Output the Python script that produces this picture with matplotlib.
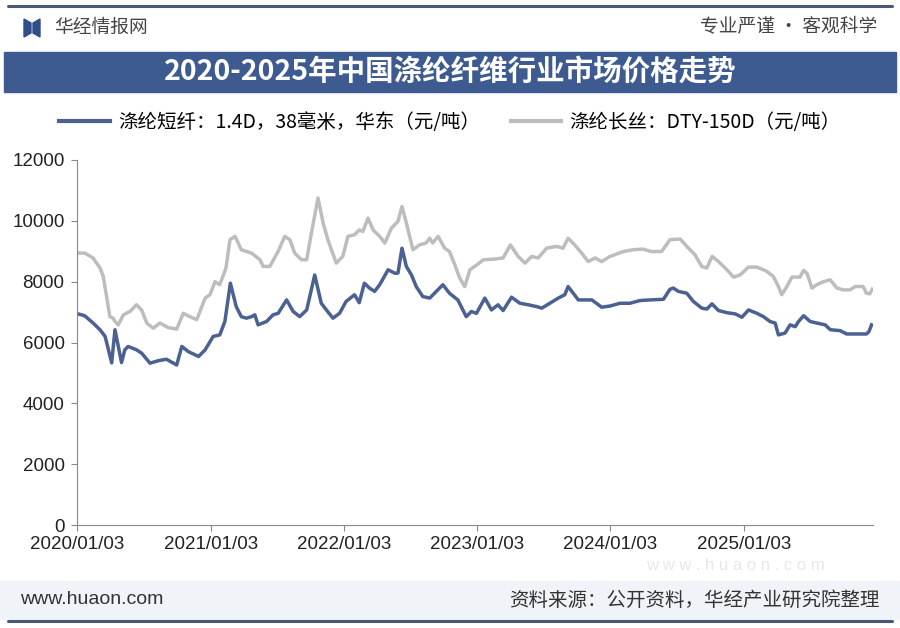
import pandas as pd
import matplotlib.pyplot as plt
from matplotlib.patches import Rectangle, Polygon
from matplotlib.lines import Line2D

plt.rcParams['font.family'] = ['Noto Sans CJK SC', 'DejaVu Sans']

# 涤纶短纤 1.4D 38mm 华东 (元/吨)
staple_dates = [
    '2020-01-03', '2020-01-24', '2020-02-16', '2020-03-06', '2020-03-20', '2020-04-07',
    '2020-04-16', '2020-05-04', '2020-05-13', '2020-05-22', '2020-06-14', '2020-06-28',
    '2020-07-21', '2020-08-12', '2020-09-04', '2020-10-02', '2020-10-16', '2020-11-03',
    '2020-12-01', '2020-12-19', '2021-01-10', '2021-01-28', '2021-02-11', '2021-02-26',
    '2021-03-14', '2021-03-28', '2021-04-11', '2021-04-25', '2021-05-04', '2021-05-13',
    '2021-06-05', '2021-06-23', '2021-07-07', '2021-07-30', '2021-08-17', '2021-09-04',
    '2021-09-23', '2021-10-15', '2021-11-02', '2021-11-16', '2021-12-04', '2021-12-22',
    '2022-01-09', '2022-02-01', '2022-02-14', '2022-02-28', '2022-03-14', '2022-03-28',
    '2022-04-11', '2022-05-04', '2022-05-22', '2022-05-31', '2022-06-11', '2022-06-23',
    '2022-07-07', '2022-07-20', '2022-08-07', '2022-08-26', '2022-09-13', '2022-10-01',
    '2022-10-19', '2022-11-11', '2022-12-04', '2022-12-18', '2023-01-01', '2023-01-24',
    '2023-02-11', '2023-03-01', '2023-03-15', '2023-04-07', '2023-04-30', '2023-05-23',
    '2023-06-15', '2023-06-29', '2023-07-21', '2023-08-13', '2023-08-31', '2023-09-09',
    '2023-09-23', '2023-10-07', '2023-11-13', '2023-12-10', '2024-01-02', '2024-01-29',
    '2024-02-25', '2024-03-24', '2024-04-20', '2024-05-27', '2024-06-14', '2024-06-23',
    '2024-07-07', '2024-07-30', '2024-08-17', '2024-09-09', '2024-09-23', '2024-10-07',
    '2024-10-25', '2024-11-17', '2024-12-10', '2024-12-28', '2025-01-15', '2025-02-07',
    '2025-02-25', '2025-03-15', '2025-03-29', '2025-04-07', '2025-04-25', '2025-05-09',
    '2025-05-23', '2025-06-01', '2025-06-15', '2025-07-03', '2025-07-21', '2025-08-13',
    '2025-08-27', '2025-09-23', '2025-10-11', '2025-11-07', '2025-12-04', '2025-12-11',
    '2025-12-18',
]
staple_price = [
    6950, 6880, 6640, 6420, 6200, 5330,
    6420, 5340, 5760, 5870, 5760, 5650,
    5320, 5400, 5450, 5260, 5870, 5700,
    5540, 5760, 6200, 6250, 6690, 7950,
    7180, 6850, 6800, 6850, 6910, 6580,
    6690, 6910, 6960, 7400, 7020, 6850,
    7070, 8220, 7290, 7070, 6800, 6960,
    7350, 7570, 7310, 7950, 7790, 7680,
    7900, 8390, 8280, 8280, 9100, 8500,
    8220, 7840, 7510, 7460, 7680, 7900,
    7620, 7400, 6850, 7020, 6960, 7460,
    7070, 7240, 7050, 7490, 7290, 7240,
    7180, 7130, 7290, 7460, 7570, 7840,
    7620, 7400, 7400, 7160, 7200, 7290,
    7290, 7380, 7400, 7420, 7750, 7790,
    7680, 7620, 7350, 7130, 7100, 7270,
    7050, 6980, 6940, 6830, 7070, 6960,
    6850, 6690, 6640, 6250, 6310, 6580,
    6520, 6690, 6880, 6690, 6640, 6580,
    6420, 6390, 6280, 6280, 6280, 6360,
    6580,
]

# 涤纶长丝 DTY-150D (元/吨)
filament_dates = [
    '2020-01-03', '2020-01-24', '2020-02-16', '2020-03-06', '2020-03-15', '2020-03-24',
    '2020-04-02', '2020-04-11', '2020-04-16', '2020-04-25', '2020-05-09', '2020-05-27',
    '2020-06-14', '2020-06-28', '2020-07-12', '2020-07-30', '2020-08-17', '2020-09-09',
    '2020-10-02', '2020-10-20', '2020-11-07', '2020-11-26', '2020-12-19', '2021-01-01',
    '2021-01-15', '2021-01-28', '2021-02-14', '2021-02-25', '2021-03-11', '2021-03-28',
    '2021-04-25', '2021-05-18', '2021-05-27', '2021-06-14', '2021-07-07', '2021-07-25',
    '2021-08-08', '2021-08-21', '2021-09-09', '2021-09-23', '2021-10-06', '2021-10-24',
    '2021-11-07', '2021-11-20', '2021-12-13', '2021-12-31', '2022-01-14', '2022-02-01',
    '2022-02-14', '2022-02-24', '2022-03-10', '2022-03-24', '2022-04-11', '2022-04-25',
    '2022-05-13', '2022-05-31', '2022-06-11', '2022-06-23', '2022-07-11', '2022-07-29',
    '2022-08-16', '2022-08-26', '2022-09-03', '2022-09-18', '2022-10-06', '2022-10-19',
    '2022-11-03', '2022-11-16', '2022-11-30', '2022-12-14', '2022-12-27', '2023-01-20',
    '2023-02-16', '2023-03-15', '2023-04-04', '2023-04-25', '2023-05-14', '2023-06-01',
    '2023-06-19', '2023-07-12', '2023-08-08', '2023-08-26', '2023-09-09', '2023-09-27',
    '2023-10-16', '2023-11-03', '2023-11-22', '2023-12-10', '2024-01-02', '2024-02-07',
    '2024-03-05', '2024-04-01', '2024-04-24', '2024-05-22', '2024-06-14', '2024-07-12',
    '2024-07-30', '2024-08-21', '2024-09-09', '2024-09-23', '2024-10-07', '2024-10-25',
    '2024-11-17', '2024-12-05', '2024-12-23', '2025-01-15', '2025-02-07', '2025-03-06',
    '2025-03-24', '2025-04-07', '2025-04-16', '2025-04-30', '2025-05-14', '2025-06-05',
    '2025-06-15', '2025-06-24', '2025-07-08', '2025-07-21', '2025-08-08', '2025-08-27',
    '2025-09-14', '2025-10-02', '2025-10-20', '2025-11-03', '2025-11-25', '2025-12-04',
    '2025-12-13', '2025-12-20',
]
filament_price = [
    8940, 8940, 8780, 8450, 8170, 7510,
    6850, 6800, 6690, 6580, 6910, 7020,
    7240, 7070, 6640, 6470, 6640, 6490,
    6440, 6960, 6850, 6750, 7460, 7570,
    8000, 7900, 8450, 9380, 9490, 9050,
    8940, 8720, 8500, 8500, 9000, 9490,
    9380, 8940, 8720, 8720, 9600, 10750,
    9930, 9380, 8610, 8830, 9490, 9540,
    9700, 9650, 10090, 9700, 9490, 9270,
    9760, 9980, 10470, 9930, 9050, 9210,
    9270, 9430, 9270, 9490, 9100, 8990,
    8550, 8120, 7840, 8390, 8500, 8720,
    8740, 8780, 9210, 8830, 8610, 8830,
    8780, 9100, 9160, 9100, 9430, 9210,
    8940, 8660, 8780, 8660, 8830, 8990,
    9050, 9070, 8990, 8990, 9380, 9400,
    9160, 8890, 8500, 8450, 8830, 8660,
    8390, 8150, 8220, 8480, 8480, 8340,
    8170, 7840, 7570, 7840, 8150, 8150,
    8370, 8280, 7790, 7900, 8000, 8060,
    7790, 7730, 7730, 7840, 7840, 7620,
    7600, 7750,
]

legend_labels = ['涤纶短纤：1.4D，38毫米，华东（元/吨）', '涤纶长丝：DTY-150D（元/吨）']
x_ticks = ['2020-01-03', '2021-01-03', '2022-01-03', '2023-01-03', '2024-01-03', '2025-01-03']
y_ticks = [0, 2000, 4000, 6000, 8000, 10000, 12000]

blue = '#4a6192'
grey = '#bdbdbd'
navy = '#3d5a91'
latin = ['Liberation Sans', 'DejaVu Sans']

fig = plt.figure(figsize=(9, 6.28), dpi=100)
W, H = 900, 628

def fx(px):
    return px / W

def fy(py):
    return 1 - py / H

# frame lines top and bottom
fig.add_artist(Line2D([fx(8), fx(892)], [fy(6), fy(6)], color='#4a5878', lw=2.2, solid_capstyle='round'))
fig.add_artist(Line2D([fx(8), fx(892)], [fy(621), fy(621)], color='#4a5878', lw=2.2, solid_capstyle='round'))

# logo
fig.add_artist(Polygon([(fx(24), fy(19)), (fx(31), fy(23)), (fx(31), fy(33)), (fx(24), fy(37))],
                       closed=True, color='#2f4f8a', transform=fig.transFigure))
fig.add_artist(Polygon([(fx(33), fy(23)), (fx(40), fy(19)), (fx(40), fy(37)), (fx(33), fy(33))],
                       closed=True, color='#2f4f8a', transform=fig.transFigure))
fig.text(fx(54), fy(27), '华经情报网', fontsize=13.5, color='#444444', va='center', ha='left')
fig.text(fx(877), fy(27), '专业严谨 • 客观科学', fontsize=13.5, color='#444444', va='center', ha='right')

# title band
fig.add_artist(Rectangle((fx(4), fy(92)), fx(892), 40 / H, color=navy, transform=fig.transFigure))
fig.text(0.5, fy(72), '2020-2025年中国涤纶纤维行业市场价格走势', fontsize=20.5, color='white',
         fontweight='bold', ha='center', va='center')

# footer band
fig.add_artist(Rectangle((fx(0), fy(619)), 1, 38 / H, color='#f0f3f8', transform=fig.transFigure))
fig.text(fx(20), fy(600), 'www.huaon.com', fontsize=14, color='#333333', ha='left', va='center',
         family=latin)
fig.text(fx(880), fy(600), '资料来源：公开资料，华经产业研究院整理', fontsize=14, color='#333333',
         ha='right', va='center')

# faint watermark
fig.text(fx(735), fy(566), 'w w w . h u a o n . c o m', fontsize=12, color='#e8e8e8', ha='center',
         va='center', zorder=0, family=latin)

ax = fig.add_axes([fx(77), fy(525), (873 - 77) / W, (525 - 160) / H])
ax.set_facecolor('none')

sd = pd.to_datetime(staple_dates)
fd = pd.to_datetime(filament_dates)
ax.plot(fd, filament_price, color=grey, lw=2.5, solid_joinstyle='round')
ax.plot(sd, staple_price, color=blue, lw=2.5, solid_joinstyle='round')

ax.set_ylim(0, 12000)
ax.set_yticks(y_ticks)
ax.set_yticklabels([str(v) for v in y_ticks], fontsize=13.5, family=latin, color='#222222')
xt = pd.to_datetime(x_ticks)
ax.set_xlim(pd.Timestamp('2020-01-03'), pd.Timestamp('2025-12-22'))
ax.set_xticks(xt)
ax.set_xticklabels([d.strftime('%Y/%m/%d') for d in xt], fontsize=13.5, family=latin, color='#222222')
ax.tick_params(axis='y', length=4, color='#888888', pad=5)
ax.tick_params(axis='x', length=4, color='#888888', pad=4)

for side in ['top', 'right']:
    ax.spines[side].set_visible(False)
ax.spines['left'].set_color('#888888')
ax.spines['bottom'].set_color('#888888')

# legend
h1 = Line2D([], [], color=blue, lw=3)
h2 = Line2D([], [], color=grey, lw=3)
fig.legend([h1, h2], legend_labels, loc='center', bbox_to_anchor=(0.5, fy(122)), ncol=2, frameon=False,
           handlelength=2.6, columnspacing=1.6, handletextpad=0.4,
           prop={'family': ['Noto Sans CJK SC', 'DejaVu Sans'], 'size': 14})

fig.savefig('out.png', dpi=100)
